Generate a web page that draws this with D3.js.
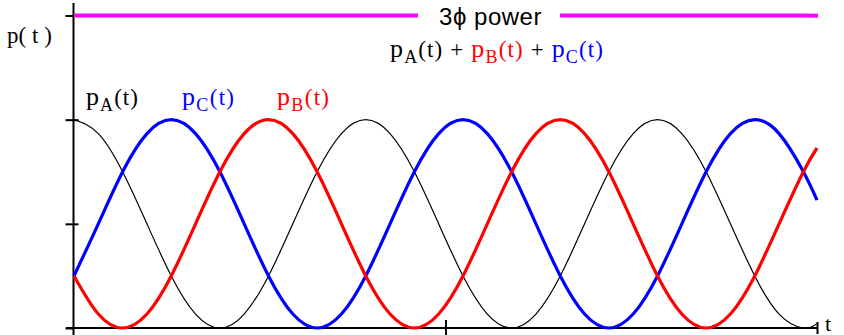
<!DOCTYPE html>
<html>
<head>
<meta charset="utf-8">
<script src="https://cdn.jsdelivr.net/npm/d3@7"></script>
<style>
  html, body { margin: 0; padding: 0; background: #fff; }
  svg { display: block; }
</style>
</head>
<body>
<svg id="chart" width="844" height="335"></svg>
<script>
// Phase angle ωt in degrees (sample grid)
const phaseDeg = [0, 15, 30, 45, 60, 75, 90, 105, 120, 135, 150, 165,
  180, 195, 210, 225, 240, 255, 270, 285, 300, 315, 330, 345,
  360, 375, 390, 405, 420, 435, 450, 458.4];

// Instantaneous power of each phase (per unit)
const pA = [1, .933, .75, .5, .25, .067, 0, .067, .25, .5, .75, .933,
  1, .933, .75, .5, .25, .067, 0, .067, .25, .5, .75, .933,
  1, .933, .75, .5, .25, .067, 0, .021];
const pB = [.25, .067, 0, .067, .25, .5, .75, .933, 1, .933, .75, .5,
  .25, .067, 0, .067, .25, .5, .75, .933, 1, .933, .75, .5,
  .25, .067, 0, .067, .25, .5, .75, .864];
const pC = [.25, .5, .75, .933, 1, .933, .75, .5, .25, .067, 0, .067,
  .25, .5, .75, .933, 1, .933, .75, .5, .25, .067, 0, .067,
  .25, .5, .75, .933, 1, .933, .75, .614];

const yTicks = [0, 0.5, 1, 1.5];
const xTicks = [229.2, 458.4];

// Total three-phase power
const pTotal = pA.map((v, i) => v + pB[i] + pC[i]);

const SERIF = "'Liberation Serif', 'Times New Roman', 'DejaVu Serif', serif";
const SANS = "'Liberation Sans', Arial, Helvetica, sans-serif";

const svg = d3.select("#chart");

const x = d3.scaleLinear().domain([0, 458.4]).range([74, 817]);
const y = d3.scaleLinear().domain([0, 1.5]).range([328, 15.5]);

const line = series => d3.line()
  .x((d, i) => x(phaseDeg[i]))
  .y(d => y(d))
  .curve(d3.curveNatural)(series);

// Axes
const yAxis = svg.append("g")
  .attr("transform", `translate(${x(0) - 0.5},0)`)
  .call(d3.axisLeft(y).tickValues(yTicks).tickSize(8).tickSizeOuter(0).tickFormat(""));
yAxis.select(".domain").remove();
yAxis.selectAll(".tick line")
  .attr("stroke-width", 2)
  .attr("x1", d => (d === 0.5 || d === 1) ? 5 : 0);
yAxis.append("line")
  .attr("x1", 0).attr("x2", 0)
  .attr("y1", 3).attr("y2", 335)
  .attr("stroke", "#000").attr("stroke-width", 2);

const xAxis = svg.append("g")
  .attr("transform", `translate(0,${y(0)})`)
  .call(d3.axisBottom(x).tickValues(xTicks).tickSize(7).tickSizeOuter(0).tickFormat(""));
xAxis.select(".domain").remove();
xAxis.selectAll(".tick line")
  .attr("stroke-width", 2)
  .attr("y1", d => d === xTicks[0] ? -8 : -6)
  .attr("y2", d => d === xTicks[0] ? 7 : 6);
xAxis.append("line")
  .attr("x1", 66).attr("x2", x(458.4) + 1)
  .attr("y1", 0).attr("y2", 0)
  .attr("stroke", "#000").attr("stroke-width", 2);

// Total power line
svg.append("path")
  .attr("d", d3.line().x((d, i) => x(phaseDeg[i])).y(d => y(d))(pTotal))
  .attr("fill", "none").attr("stroke", "#ff00ff").attr("stroke-width", 4)
  .attr("transform", "translate(1,0)");

// Phase curves
svg.append("path").attr("d", line(pA))
  .attr("fill", "none").attr("stroke", "#000").attr("stroke-width", 1.2);
svg.append("path").attr("d", line(pC))
  .attr("fill", "none").attr("stroke", "#0000ff").attr("stroke-width", 3.2);
svg.append("path").attr("d", line(pB))
  .attr("fill", "none").attr("stroke", "#ff0000").attr("stroke-width", 3.2);

// Title over the total line
svg.append("rect")
  .attr("x", 418).attr("y", 4).attr("width", 142).attr("height", 24)
  .attr("fill", "#fff");
svg.append("text")
  .attr("font-family", SANS)
  .attr("x", 490.5).attr("y", 25)
  .attr("text-anchor", "middle")
  .attr("font-size", 24)
  .attr("letter-spacing", 0.5)
  .text("3\u03D5 power");

// Subscripted p_X(t) pieces
function addTerm(t, sub, color) {
  t.append("tspan").attr("font-size", 26).attr("fill", color).text("p");
  t.append("tspan").attr("font-size", 18).attr("fill", color).attr("dy", 6).text(sub);
  t.append("tspan").attr("font-size", 23).attr("fill", color).attr("dy", -6).text("(t)");
}
function pLabel(xPos, yPos, sub, color) {
  const t = svg.append("text").attr("font-family", SERIF)
    .attr("x", xPos).attr("y", yPos)
    .attr("textLength", 52).attr("lengthAdjust", "spacing");
  addTerm(t, sub, color);
  return t;
}

// Sum formula
const sum = svg.append("text").attr("font-family", SERIF)
  .attr("x", 390).attr("y", 57)
  .attr("textLength", 213).attr("lengthAdjust", "spacing");
[["A", "#000"], ["B", "#ff0000"], ["C", "#0000ff"]].forEach(([s, c], i) => {
  if (i > 0) sum.append("tspan").attr("font-size", 23).attr("fill", "#000").text(" + ");
  addTerm(sum, s, c);
});

// Phase curve labels
pLabel(86, 105, "A", "#000");
pLabel(182, 105, "C", "#0000ff");
pLabel(277, 105, "B", "#ff0000");

// Axis titles
svg.append("text").attr("font-family", SERIF)
  .attr("x", 7).attr("y", 43).attr("font-size", 23)
  .attr("textLength", 45).attr("lengthAdjust", "spacing")
  .text("p( t )");
svg.append("text").attr("font-family", SERIF)
  .attr("x", 825).attr("y", 331).attr("font-size", 22)
  .text("t");
</script>
</body>
</html>
